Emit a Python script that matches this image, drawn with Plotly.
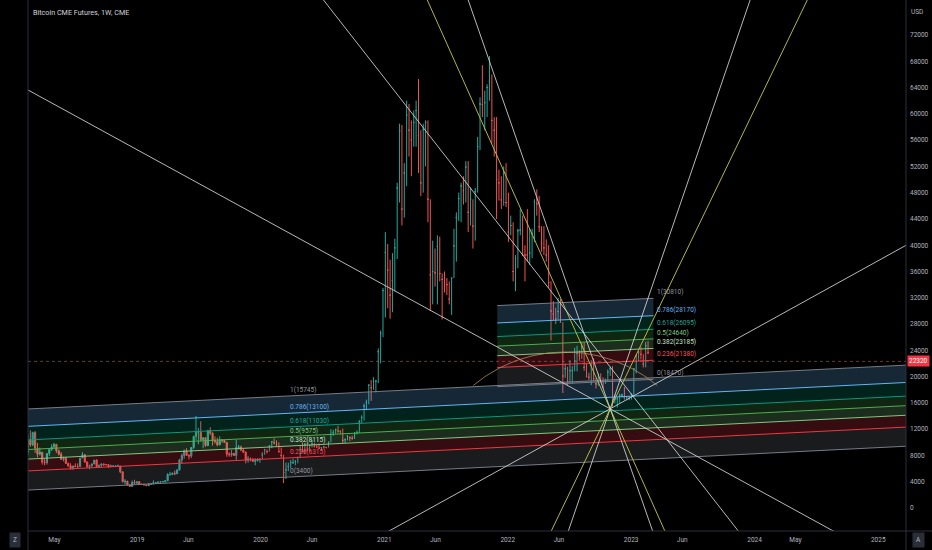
import plotly.graph_objects as go
import numpy as np
import pandas as pd

# ---------------- weekly OHLC (Bitcoin CME futures) ----------------
week_start = "2018-02-12"
opens = [8500,10400,9600,11500,9100,8200,8500,7000,6900,8300,8900,9300,9700,8700,8200,7400,7600,6800,6400,6100,
         6400,6300,6300,7600,8100,7000,6300,6400,6700,7300,6300,6500,6700,6600,6600,6300,6400,6400,6400,6400,
         5500,4000,4100,3500,3300,3900,3800,4000,3600,3600,3500,3400,3700,3650,3850,3850,3950,4000,4000,4150,
         5100,5100,5300,5200,5800,7300,8000,8700,8000,7900,9200,10900,11500,11500,10400,10700,9500,11800,11400,10300,
         10100,9600,10400,10300,10000,8200,8100,8300,8000,9200,9300,8800,8500,7300,7500,7400,7100,7200,7400,8100,
         8900,8600,9400,10100,9900,9700,8600,8000,5400,5800,6300,6900,6900,7100,7700,8900,8700,9700,8800,9500,
         9700,9400,9300,9100,9200,9300,9200,10000,11200,11500,11900,11700,11700,10300,10400,10900,10700,10600,11400,11500,
         13100,13800,15500,16100,18700,18300,19300,19300,23800,26600,33100,38900,36200,32400,34600,39600,48700,57400,45500,51000,
         59800,57500,56000,58700,60500,56700,49500,57600,58700,47000,35500,36000,35800,39800,35700,34800,34300,34000,31800,35000,
         39900,44200,47100,49000,48300,51900,45000,47000,42900,48200,55000,61500,61400,61700,64000,65000,59000,57500,50000,49500,
         46900,51000,46500,42000,43000,36000,38000,42200,42300,38500,38500,38500,38800,41800,46600,46300,42800,40300,39600,38500,
         34300,30000,29500,28800,29900,28300,20100,21200,19300,20900,20900,22400,23500,23200,24500,21400,20000,19900,21700,19700,
         18900,19400,19300,19300,19500,20700,21200,16300,16600,16600,17100,17200,16800,16900,16700,17300,21200,23100,23700,23400,
         21900,24700,23600]
highs = [11200,11800,11600,11700,9900,9200,8500,7500,8300,9000,9700,9900,9700,8900,8500,7800,7800,6900,6800,6400,
         6800,6800,7600,8500,8200,7100,6600,6800,7300,7400,6600,6800,6800,6700,6700,6600,6500,6500,6600,6400,
         5600,4400,4100,3600,4200,4300,4000,4100,3700,3700,3500,3700,3700,4200,3900,4000,4000,4100,4150,5300,
         5500,5400,5700,5900,7500,8300,8900,9100,8200,9300,11000,14000,12200,13200,10800,10800,11900,12300,11500,10900,
         10700,10900,10500,10400,10000,8500,8800,8400,10400,9600,9500,9000,8600,7900,7700,7600,7600,7600,7600,8500,
         9000,8900,9600,10200,10600,10300,10000,9200,8100,6900,6900,7300,7500,7300,7800,9500,10000,9900,9900,9700,
         10400,9900,9600,9800,9300,9500,9300,10100,12000,11900,12100,12500,11800,12100,10600,11100,10900,11000,11500,11800,
         13400,14100,15900,16500,18800,19500,19900,19500,24300,27000,33500,42000,40200,37800,38800,41000,49500,58500,58300,52500,
         62000,61500,59000,60500,62000,65300,57500,58500,59000,59000,47000,40700,39500,41500,41300,35700,36000,35000,34500,35000,
         42500,45000,48000,49500,50500,52800,52800,48800,47000,48700,56500,62500,67400,63500,64500,68800,66000,59500,59500,51500,
         50500,52000,52500,48000,44500,43500,38500,42500,45500,44500,40000,45500,42500,42500,47000,48500,47500,42900,42900,40900,
         40000,34500,31500,30500,32000,31800,28300,22000,21500,22500,21600,24400,24700,24000,25200,25200,22000,20600,22500,22800,
         19800,20500,20500,19900,19700,21100,21500,21600,17300,16900,17400,17400,18400,17000,17000,17400,21300,23400,23900,24500,
         23400,25300,25400,23900]
lows = [8100,9300,9400,8400,7700,8000,6600,6500,6600,7900,8700,9000,8400,8000,7300,7100,6700,6300,5800,5800,
        6300,6100,6300,7600,6900,6100,5900,6300,6700,6300,6100,6200,6400,6500,6100,6300,6300,6300,6300,5300,
        3900,3600,3400,3200,3200,3600,3700,3600,3500,3500,3400,3400,3550,3650,3700,3700,3850,3950,3900,4100,
        4900,5000,5000,5200,5700,6800,7500,8000,7400,7600,9000,10300,9700,10100,9100,9300,9400,11100,9500,9800,
        9400,9600,9900,9900,7800,7800,7800,7900,7300,8900,8700,8400,6800,6900,7100,7000,6500,7100,6900,7400,
        8100,8300,8600,9100,9700,9300,8400,7600,3800,4400,5600,6100,6700,6500,6800,7700,8500,8200,8800,8600,
        9200,9200,9200,9000,8900,9100,9100,9200,10000,11000,11300,11400,11200,9900,9900,10300,10200,10400,10500,11200,
        11400,12900,13300,14900,15800,16300,18000,17600,19000,22000,26000,29000,30400,28800,29800,33000,37900,46500,43000,44200,
        49000,53500,50500,55000,55000,51000,47500,48000,52000,43500,30000,31000,33700,31000,34500,28700,32800,32400,31000,29400,
        35000,37500,43700,43500,46200,46500,42000,43000,39500,40700,48000,54500,59500,57500,59500,62000,55500,53500,44000,46800,
        45500,46000,45800,40500,41500,34500,33000,36500,41500,38500,34500,37500,37000,38000,40500,44500,42000,39000,38500,37500,
        33500,25500,28600,28000,28700,28200,17500,19800,18700,19000,18900,20800,20800,22400,22700,20900,19900,19500,18700,19300,
        18200,18600,19200,18200,18900,19300,20100,15400,15900,15300,16000,16800,16500,16400,16400,16500,17100,20500,22300,22600,
        21400,21400,23500,21900]
closes = [10400,9600,11500,9100,8200,8500,7000,6900,8300,8900,9300,9700,8700,8200,7400,7600,6800,6400,6100,6400,
          6300,6300,7600,8100,7000,6300,6400,6700,7300,6300,6500,6700,6600,6600,6300,6400,6400,6400,6400,5500,
          4000,4100,3500,3300,3900,3800,4000,3600,3600,3500,3400,3700,3650,3850,3850,3950,4000,4000,4150,5100,
          5100,5300,5200,5800,7300,8000,8700,8000,7900,9200,10900,11500,11500,10400,10700,9500,11800,11400,10300,10100,
          9600,10400,10300,10000,8200,8100,8300,8000,9200,9300,8800,8500,7300,7500,7400,7100,7200,7400,7400,8100,
          8900,8600,9400,10100,9900,9700,8600,8000,5400,5800,6300,6900,6900,7100,7700,8900,8700,9700,8800,9500,
          9700,9400,9300,9100,9200,9300,9200,10000,11200,11500,11900,11700,11700,10300,10400,10900,10700,10600,11400,11500,
          13100,13800,15500,16100,18700,18300,19300,19300,23800,26600,33100,38900,36200,32400,34600,39600,48700,57400,45500,51000,
          59800,57500,56000,58700,60500,56700,49500,57600,58700,47000,35500,36000,35800,39800,35700,34800,34300,34000,31800,35000,
          39900,44200,47100,49000,48300,51900,45000,47000,42900,48200,55000,61500,61400,61700,64000,65000,59000,57500,50000,49500,
          46900,51000,46500,42000,43000,36000,38000,42200,42300,38500,38500,38500,38800,41800,46600,46300,42800,40300,39600,38500,
          34300,30000,29500,28800,29900,28300,20100,21200,19300,20900,20900,22400,23500,23200,24500,21400,20000,19900,21700,19700,
          18900,19400,19300,19300,19500,20700,21200,16300,16600,16600,17100,17200,16800,16900,16700,17300,21200,23100,23700,23400,
          21900,24700,23600,22320]
last_price = 22320

# ---------------- axis ticks ----------------
x_tick_dates = ["2018-05-01", "2019-01-01", "2019-06-01", "2020-01-01", "2020-06-01", "2021-01-01", "2021-06-01",
                "2022-01-01", "2022-06-01", "2023-01-01", "2023-06-01", "2024-01-01", "2024-05-01", "2025-01-01"]
x_tick_text = ["May", "2019", "Jun", "2020", "Jun", "2021", "Jun", "2022", "Jun", "2023", "Jun", "2024", "May", "2025"]
y_ticks = list(range(0, 72001, 4000))
x_range = ["2018-02-12", "2025-03-24"]
y_range = [-3501, 77328]

# ---------------- fib channels ----------------
fib_levels = [0, 0.236, 0.382, 0.5, 0.618, 0.786, 1]
fib_level_text = ["0", "0.236", "0.382", "0.5", "0.618", "0.786", "1"]
fib_colors = ["#787b86", "#f23645", "#81c784", "#4caf50", "#089981", "#64b5f6", "#787b86"]
fib_text_colors = ["#9598a1", "#f7525f", "#c8e6c9", "#81c784", "#26a69a", "#64b5f6", "#9598a1"]

ch1_level_prices = [3400, 6315, 8115, 9575, 11030, 13100, 15745]
ch2_level_prices = [18470, 21380, 23185, 24640, 26095, 28170, 30810]

ch1 = dict(anchor="2018-10-31", low=3400, high=15745, slope=2.57, start=x_range[0], end=x_range[1],
           label_date="2020-03-22", labels=ch1_level_prices)
ch2 = dict(anchor="2021-12-01", low=18470, high=30810, slope=2.4, start="2021-12-01", end="2023-03-08",
           label_date="2023-03-12", labels=ch2_level_prices)

# ---------------- fan / trend lines ----------------
pivot_date, pivot_price = "2022-10-31", 15100
fan_dates = ["2018-02-12", "2021-05-08", "2021-09-06", "2023-12-19", "2024-06-05", "2021-01-15"]
fan_prices = [63630, 77330, 77330, 77330, 77330, -3500]
fan_kinds = ["w", "y", "w", "w", "y", "w"]
line_b_dates = ["2020-07-05", "2023-11-14"]
line_b_prices = [77330, -3500]

arc_center_date, arc_center_price = "2022-06-20", 1979
arc_rx_days, arc_ry_price = 423, 21768
arc_angles = [50, 130]

WHITE = "rgba(215,215,215,0.85)"
YELLOW = "rgba(190,190,70,0.95)"
FONT = "Roboto"


def rgba(hex_c, a):
    h = hex_c.lstrip("#")
    return "rgba(%d,%d,%d,%.3f)" % (int(h[0:2], 16), int(h[2:4], 16), int(h[4:6], 16), a)


def ch_price(ch, d, lvl):
    days = (pd.Timestamp(d) - pd.Timestamp(ch["anchor"])).days
    return ch["low"] + ch["slope"] * days + lvl * (ch["high"] - ch["low"])


dates = pd.date_range(week_start, periods=len(closes), freq="7D")

fig = go.Figure()


def add_channel(ch):
    s, e = ch["start"], ch["end"]
    for i in range(len(fib_levels) - 1):
        l0, l1 = fib_levels[i], fib_levels[i + 1]
        xs = [s, e, e, s, s]
        ys = [ch_price(ch, s, l0), ch_price(ch, e, l0), ch_price(ch, e, l1), ch_price(ch, s, l1), ch_price(ch, s, l0)]
        fig.add_trace(go.Scatter(x=xs, y=ys, mode="lines", fill="toself", line=dict(width=0),
                                 fillcolor=rgba(fib_colors[i], 0.22), hoverinfo="skip"))
    for lvl, ltxt, col, tcol, lp in zip(fib_levels, fib_level_text, fib_colors, fib_text_colors, ch["labels"]):
        fig.add_trace(go.Scatter(x=[s, e], y=[ch_price(ch, s, lvl), ch_price(ch, e, lvl)], mode="lines",
                                 line=dict(color=col, width=1), hoverinfo="skip"))
        ld = ch["label_date"]
        fig.add_annotation(x=ld, y=ch_price(ch, ld, lvl), text="%s(%d)" % (ltxt, lp), showarrow=False,
                           xanchor="left", yanchor="bottom", font=dict(size=6.5, color=tcol, family=FONT))


add_channel(ch1)
add_channel(ch2)

fig.add_trace(go.Candlestick(x=dates, open=opens, high=highs, low=lows, close=closes,
                             increasing=dict(line=dict(color="#26a69a", width=1), fillcolor="#26a69a"),
                             decreasing=dict(line=dict(color="#ef5350", width=1), fillcolor="#ef5350"),
                             whiskerwidth=0, hoverinfo="skip"))


def extend(d1, p1, d2, p2):
    # extend a drawn line across the visible date range
    t1, t2 = pd.Timestamp(d1), pd.Timestamp(d2)
    k = (p2 - p1) / (t2 - t1).days
    a, b = pd.Timestamp(x_range[0]), pd.Timestamp(x_range[1])
    return [a, b], [p1 + k * (a - t1).days, p1 + k * (b - t1).days]


for d, p, kind in zip(fan_dates, fan_prices, fan_kinds):
    xs, ys = extend(d, p, pivot_date, pivot_price)
    fig.add_trace(go.Scatter(x=xs, y=ys, mode="lines", line=dict(color=WHITE if kind == "w" else YELLOW, width=1),
                             hoverinfo="skip"))
xs, ys = extend(line_b_dates[0], line_b_prices[0], line_b_dates[1], line_b_prices[1])
fig.add_trace(go.Scatter(x=xs, y=ys, mode="lines", line=dict(color=WHITE, width=1), hoverinfo="skip"))

# arc
ang = np.radians(np.linspace(arc_angles[0], arc_angles[1], 60))
c0 = pd.Timestamp(arc_center_date)
arc_x = [c0 + pd.Timedelta(days=float(arc_rx_days * np.cos(a))) for a in ang]
arc_y = arc_center_price + arc_ry_price * np.sin(ang)
fig.add_trace(go.Scatter(x=arc_x, y=arc_y, mode="lines", line=dict(color="rgba(170,140,100,0.8)", width=1),
                         hoverinfo="skip"))

# price line
fig.add_shape(type="line", xref="paper", x0=0, x1=1, yref="y", y0=last_price, y1=last_price,
              line=dict(color="rgba(180,110,110,0.55)", width=1, dash="dot"))

# pane borders
border = "#2a2e39"
fig.add_shape(type="line", xref="paper", yref="paper", x0=0, x1=0, y0=-19 / 531, y1=1, line=dict(color=border, width=1))
fig.add_shape(type="line", xref="paper", yref="paper", x0=1, x1=1, y0=-19 / 531, y1=1, line=dict(color=border, width=1))
fig.add_shape(type="line", xref="paper", yref="paper", x0=0, x1=26 / 878 + 1, y0=0, y1=0, line=dict(color=border, width=1))

# price label
fig.add_annotation(xref="paper", x=1, y=last_price, text=str(last_price), showarrow=False, xanchor="left",
                   xshift=1, bgcolor="#f23645", font=dict(size=6.5, color="white", family=FONT), borderpad=1)
fig.add_annotation(xref="paper", yref="paper", x=1, y=1, yshift=-6, text="USD", showarrow=False, xanchor="left",
                   yanchor="top", xshift=3, font=dict(size=6.5, color="#b2b5be", family=FONT))
fig.add_annotation(xref="paper", yref="paper", x=0, y=1, xshift=3, yshift=-6, text="Bitcoin CME Futures, 1W, CME",
                   showarrow=False, xanchor="left", yanchor="top", font=dict(size=7.2, color="#d1d4dc", family=FONT))

# corner icons (pixel offsets from the plot's bottom corners)
for xref_pos, dx, letter in [(0, -13, "Z"), (1, 12, "A")]:
    fig.add_annotation(xref="paper", yref="paper", x=xref_pos, y=0, xshift=dx, yshift=-9, xanchor="center",
                       yanchor="middle", text=letter, showarrow=False, bgcolor="#2a2e39", borderpad=3,
                       font=dict(size=6.5, color="#b2b5be", family=FONT))

fig.update_layout(
    width=932, height=550, margin=dict(l=28, r=26, t=0, b=19),
    paper_bgcolor="black", plot_bgcolor="black", showlegend=False,
    xaxis=dict(type="date", range=x_range, tickvals=x_tick_dates, ticktext=x_tick_text, showgrid=False,
               zeroline=False, ticks="", showline=False, rangeslider=dict(visible=False),
               tickfont=dict(size=6.5, color="#b2b5be", family=FONT), ticklabelstandoff=3),
    yaxis=dict(side="right", range=y_range, tickvals=y_ticks, tickformat="d", showgrid=False, zeroline=False,
               ticks="", showline=False, tickfont=dict(size=6.5, color="#b2b5be", family=FONT),
               ticklabelstandoff=3),
)

fig.write_html("out.html", config={"displayModeBar": False},
               post_script="document.body.style.margin='0px';document.body.style.background='black';")
